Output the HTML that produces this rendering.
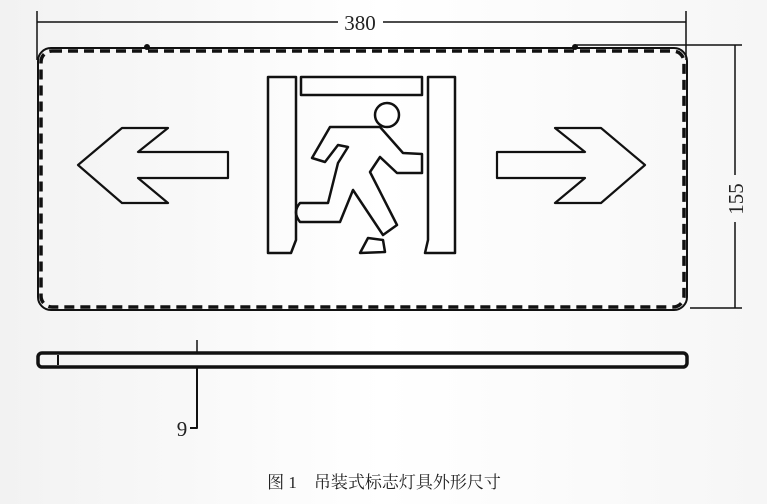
<!DOCTYPE html>
<html><head><meta charset="utf-8"><style>
html,body{margin:0;padding:0;background:#fff;}
svg{display:block;}
</style></head><body>
<svg width="767" height="504" viewBox="0 0 767 504" xmlns="http://www.w3.org/2000/svg">
<defs><linearGradient id="bg" x1="0" y1="0" x2="1" y2="0"><stop offset="0" stop-color="#f2f2f2"/><stop offset="0.5" stop-color="#fff"/><stop offset="1" stop-color="#f6f6f6"/></linearGradient></defs>
<rect width="767" height="504" fill="url(#bg)"/>
<g fill="none" stroke="#111" stroke-linejoin="round">
<!-- top dim -->
<line x1="37" y1="11" x2="37" y2="60" stroke-width="1.5"/>
<line x1="686" y1="11" x2="686" y2="60" stroke-width="1.5"/>
<line x1="37" y1="22" x2="338" y2="22" stroke-width="1.5"/>
<line x1="383" y1="22" x2="686" y2="22" stroke-width="1.5"/>
<!-- right dim -->
<line x1="575" y1="45" x2="742" y2="45" stroke-width="1.5"/>
<line x1="690" y1="308" x2="742" y2="308" stroke-width="1.5"/>
<line x1="735" y1="45" x2="735" y2="175" stroke-width="1.5"/>
<line x1="735" y1="222" x2="735" y2="308" stroke-width="1.5"/>
<!-- panel -->
<rect x="38" y="48" width="649" height="262" rx="13" stroke-width="2"/>
<rect x="41" y="51" width="643" height="256" rx="11" stroke-width="3.5" stroke-dasharray="10,6"/>
<circle cx="147" cy="47" r="3" fill="#111" stroke="none"/>
<circle cx="575" cy="47" r="3" fill="#111" stroke="none"/>
<!-- arrows -->
<path d="M78 165 L122 128 L168 128 L138 152 L228 152 L228 178 L138 178 L168 203 L122 203 Z" stroke-width="2.2"/>
<path d="M645 165 L601 128 L555 128 L585 152 L497 152 L497 178 L585 178 L555 203 L601 203 Z" stroke-width="2.2"/>
<!-- door -->
<path d="M268 77 L296 77 L296 240 L291 253 L268 253 Z" stroke-width="2.5"/>
<rect x="301" y="77" width="121" height="18" stroke-width="2.5"/>
<path d="M428 77 L455 77 L455 253 L425 253 L428 240 Z" stroke-width="2.5"/>
<circle cx="387" cy="115" r="12" stroke-width="2.5"/>
<path d="M330 127 L380 127 L403 153 L422 154 L422 173 L397 173 L380 157 L370 172 L397 225 L383 235 L353 190 L340 222 L300 222 Q292 212 300 203 L328 203 L338 163 L348 147 L338 145 L325 162 L312 158 Z" stroke-width="2.5"/>
<path d="M360 253 L368 238 L383 240 L385 252 Z" stroke-width="2.5"/>
<!-- side view -->
<rect x="38" y="353" width="649" height="14" rx="4" stroke-width="3.5"/>
<line x1="58" y1="355" x2="58" y2="365" stroke-width="2"/>
<line x1="197" y1="340" x2="197" y2="352" stroke-width="1.5"/>
<path d="M197 368 L197 428 L190 428" stroke-width="2"/>
</g>
<g font-family="'Liberation Serif','Noto Serif CJK SC',serif" fill="#222">
<text x="360" y="30" font-size="21" text-anchor="middle">380</text>
<text transform="translate(743,199) rotate(-90)" font-size="21" text-anchor="middle">155</text>
<text x="182" y="436" font-size="21" text-anchor="middle">9</text>
<text x="384" y="488" font-size="17" text-anchor="middle">图 1　吊装式标志灯具外形尺寸</text>
</g>
</svg>
</body></html>
